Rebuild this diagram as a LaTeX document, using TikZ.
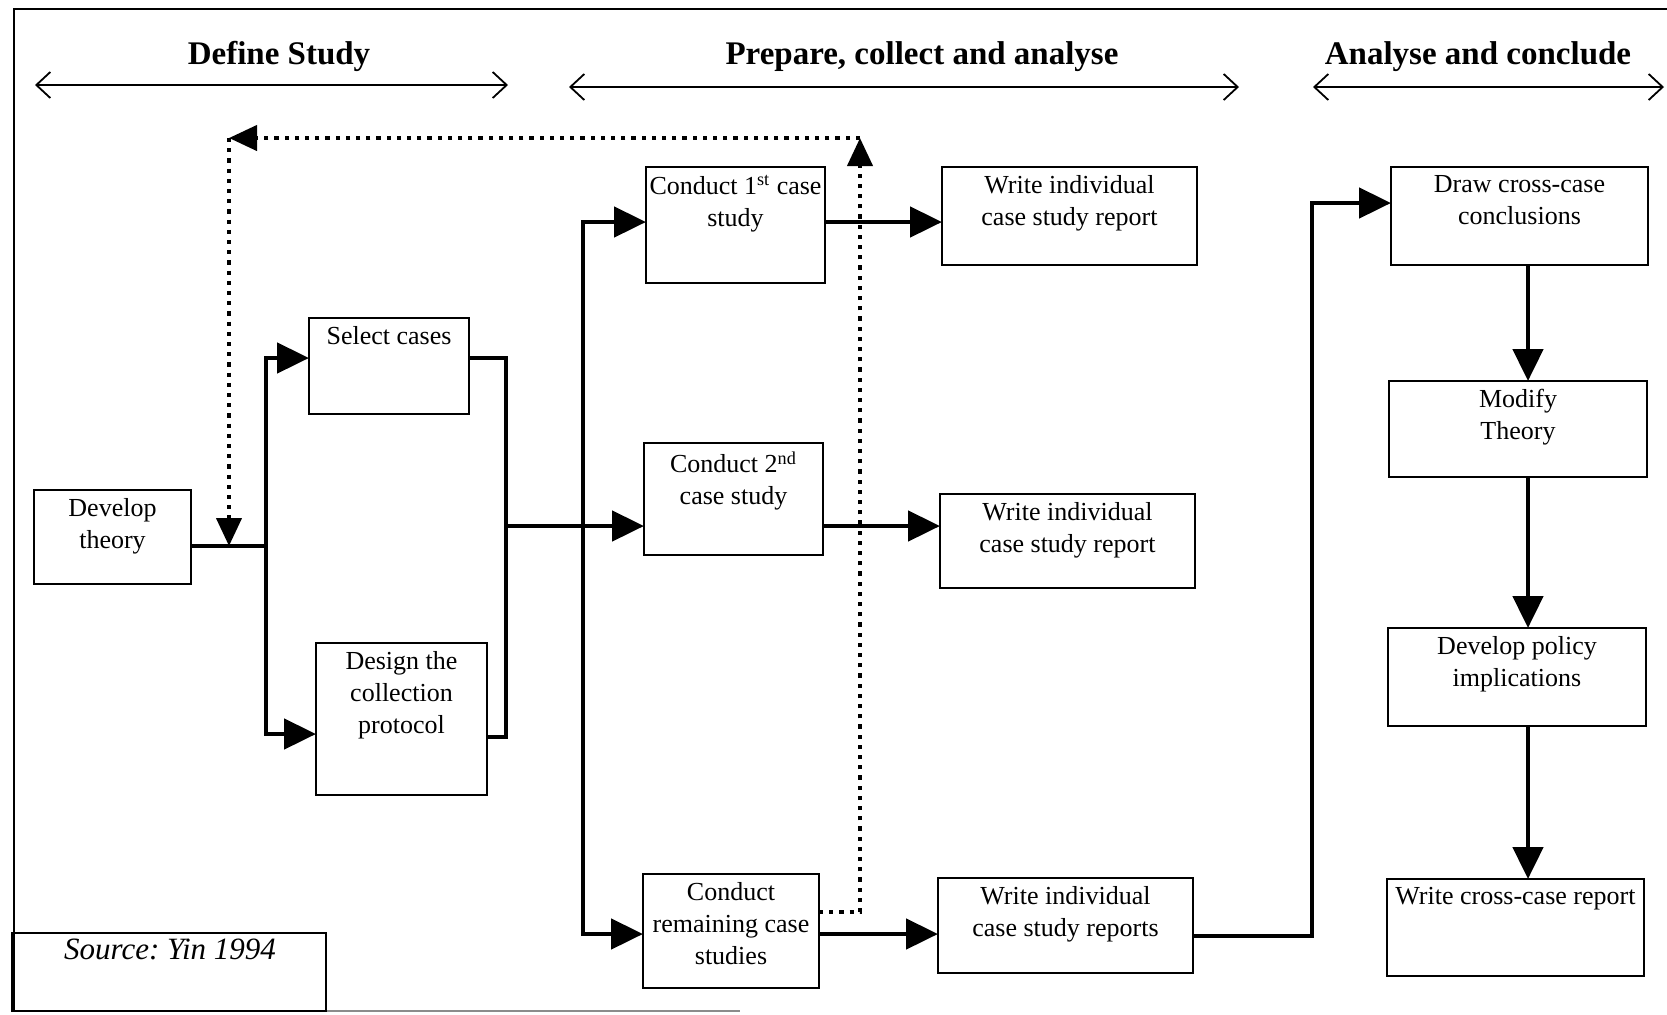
\documentclass[tikz,border=0pt]{standalone}
\usepackage{fontspec}
\setmainfont{Liberation Serif}
\usetikzlibrary{arrows.meta}
\frenchspacing

% A process box: name, left, top, right, bottom, text (text sits near the top)
\newcommand\stage[6]{%
  \node[stepbox, minimum width={(#4-#2)*0.5pt}, minimum height={(#5-#3)*0.5pt}]
    (#1) at ({(#2+#4)/2},{(#3+#5)/2}) {};
  \node[boxtext, anchor=north] (#1-t) at ([yshift=-4pt]#1.north) {#6};%
}

\begin{document}
\begin{tikzpicture}[x=0.5pt,y=-0.5pt,
  stepbox/.style={draw, line width=0.9pt, inner sep=0pt, outer sep=0pt},
  boxtext/.style={inner sep=0pt, align=center, font=\fontsize{13}{16}\selectfont},
  phase/.style={inner sep=0pt, font=\fontsize{16.5}{20}\selectfont\bfseries},
  span/.style={line width=0.9pt,
    {Straight Barb[length=7pt,width=13pt]}-{Straight Barb[length=7pt,width=13pt]}},
  link/.style={line width=2.4pt},
  flow/.style={link, -{Triangle[length=16pt,width=15pt]}},
  loop/.style={line width=2.1pt, dash pattern=on 2.1pt off 3pt},
  looptip/.style={loop, -{Triangle[length=14pt,width=12.5pt]}},
]
\useasboundingbox (0,0) rectangle (1667,1014);

% outer frame (open on the right)
\draw[line width=1pt] (1667,8.5) -- (14,8.5) -- (14,1011) -- (326,1011);
\draw[line width=0.8pt, black!45] (326,1011) -- (740,1011);

% phase headings with their span arrows
\node[phase] (h1) at (279,56) {Define Study};
\node[phase] (h2) at (922,57) {Prepare, collect and analyse};
\node[phase] (h3) at (1478,57) {Analyse and conclude};
\coordinate (a1l) at (35,85);   \coordinate (a1r) at (508,85);
\coordinate (a2l) at (569,87);  \coordinate (a2r) at (1239,87);
\coordinate (a3l) at (1313,87); \coordinate (a3r) at (1664,87);
\draw[span] (a1l) -- (a1r);
\draw[span] (a2l) -- (a2r);
\draw[span] (a3l) -- (a3r);

% process boxes
\stage{dt}{34}{490}{191}{584}{Develop\\theory}
\stage{sc}{309}{318}{469}{414}{Select cases}
\stage{dp}{316}{643}{487}{795}{Design the\\collection\\protocol}
\stage{c1}{646}{167}{825}{283}{Conduct 1\textsuperscript{st} case\\study}
\stage{c2}{644}{443}{823}{555}{Conduct 2\textsuperscript{nd}\\case study}
\stage{cr}{643}{874}{819}{988}{Conduct\\remaining case\\studies}
\stage{w1}{942}{167}{1197}{265}{Write individual\\case study report}
\stage{w2}{940}{494}{1195}{588}{Write individual\\case study report}
\stage{w3}{938}{878}{1193}{973}{Write individual\\case study reports}
\stage{dc}{1391}{167}{1648}{265}{Draw cross-case\\conclusions}
\stage{mt}{1389}{381}{1647}{477}{Modify\\Theory}
\stage{pi}{1388}{628}{1646}{726}{Develop policy\\implications}
\stage{cc}{1387}{879}{1644}{976}{Write cross-case report}

% source note
\node[stepbox, minimum width=157pt, minimum height=39pt] (src) at (169,972) {};
\node[inner sep=0pt, font=\fontsize{15.5}{18}\selectfont\itshape] (src-t) at (170,949) {Source: Yin 1994};

% routing points
\coordinate (j1) at (266,546);
\coordinate (s1t) at (266,358);
\coordinate (s1b) at (266,734);
\coordinate (m1) at (506,358);
\coordinate (m2) at (506,737);
\coordinate (m3) at (506,526);
\coordinate (s2) at (583,526);
\coordinate (s2t) at (583,222);
\coordinate (s2b) at (583,934);
\coordinate (r1) at (1312,936);
\coordinate (r2) at (1312,203);
\coordinate (vx) at (1528,0);

% define study
\draw[link] (dt.east |- j1) -- (j1);
\draw[flow] (j1) -- (s1t) -- (sc.west |- s1t);
\draw[flow] (j1) -- (s1b) -- (dp.west |- s1b);
\draw[link] (sc.east |- m1) -- (m1) -- (m2) -- (dp.east |- m2);

% case studies
\draw[flow] (m3) -- (c2.west |- m3);
\draw[flow] (s2) -- (s2t) -- (c1.west |- s2t);
\draw[flow] (s2) -- (s2b) -- (cr.west |- s2b);
\draw[flow] (c1.east |- s2t) -- (w1.west |- s2t);
\draw[flow] (c2.east |- m3) -- (w2.west |- m3);
\draw[flow] (cr.east |- s2b) -- (w3.west |- s2b);

% cross-case analysis
\draw[flow] (w3.east |- r1) -- (r1) -- (r2) -- (dc.west |- r2);
\draw[flow] (dc.south -| vx) -- (mt.north -| vx);
\draw[flow] (mt.south -| vx) -- (pi.north -| vx);
\draw[flow] (pi.south -| vx) -- (cc.north -| vx);

% feedback loop
\coordinate (d0) at (860,912);
\coordinate (d1) at (860,138);
\coordinate (d2) at (229,138);
\draw[looptip] (cr.east |- d0) -- (d0) -- (d1);
\draw[looptip] (d1) -- (d2);
\draw[looptip] (d2) -- (d2 |- j1);
\end{tikzpicture}
\end{document}
